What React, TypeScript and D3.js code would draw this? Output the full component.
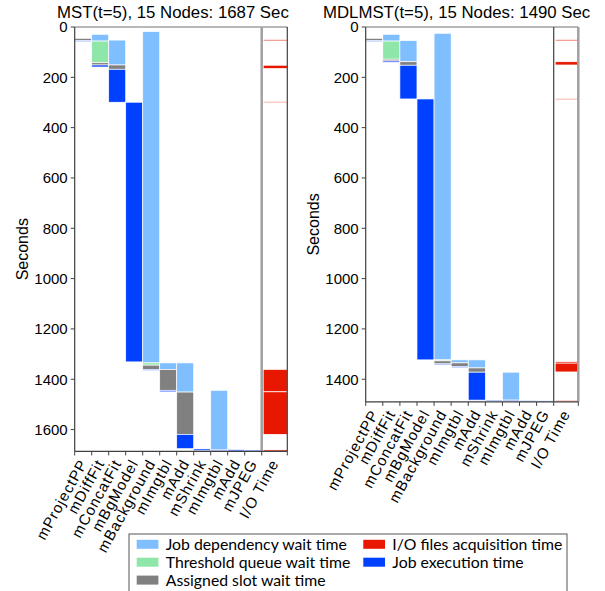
import React from "react";
import * as d3 from "d3";

const categories = ["mProjectPP", "mDiffFit", "mConcatFit", "mBgModel", "mBackground", "mImgtbl", "mAdd", "mShrink", "mImgtbl", "mAdd", "mJPEG"];
const ioLabel = "I/O Time";
const yTicksLeft = [0, 200, 400, 600, 800, 1000, 1200, 1400, 1600];
const yTicksRight = [0, 200, 400, 600, 800, 1000, 1200, 1400];

// MST(t=5)
const mstTotal = 1687;
const mstStart = [45, 29, 52, 299, 18, 1335, 1335, 1677, 1444, 1680, 1682];
const mstDep = [0, 27, 99, 0, 1317, 26, 116, 0, 235, 0, 0];
const mstThr = [0, 86, 0, 0, 9, 0, 0, 0, 0, 0, 0];
const mstSlot = [9, 9, 17, 0, 17, 83, 168, 0, 0, 0, 0];
const mstExec = [4, 8, 131, 1032, 4, 6, 57, 7, 5, 5, 5];
const mstIoStart = [50, 152, 297, 1361, 1450, 1681];
const mstIoEnd = [55, 165, 301, 1450, 1619, 1687];

// MDLMST(t=5)
const mdlTotal = 1490;
const mdlStart = [45, 29, 54, 286, 25, 1323, 1323, 1483, 1372, 1485, 1486];
const mdlDep = [0, 27, 84, 0, 1298, 12, 32, 0, 111, 0, 0];
const mdlThr = [0, 72, 0, 0, 4, 0, 0, 0, 0, 0, 0];
const mdlSlot = [9, 7, 14, 0, 12, 14, 17, 0, 0, 0, 0];
const mdlExec = [4, 5, 134, 1037, 4, 5, 111, 4, 4, 4, 3];
const mdlIoStart = [50, 138, 285, 1330, 1336, 1484];
const mdlIoEnd = [55, 151, 289, 1336, 1371, 1489];

const legendLabels = ["Job dependency wait time", "Threshold queue wait time", "Assigned slot wait time", "I/O files acquisition time", "Job execution time"];

const C = {
  dep: "#7fbfff",
  thr: "#8ee6a8",
  slot: "#808080",
  exec: "#0040ff",
  io: "#e81800",
};
const legendColors = [C.dep, C.thr, C.slot, C.io, C.exec];

const PX_PER_SEC = 0.2516;
const TOP = 27;
const AXIS_FONT = "'Liberation Sans', Arial, sans-serif";

type PanelProps = {
  title: string;
  total: number;
  ticks: number[];
  start: number[];
  dep: number[];
  thr: number[];
  slot: number[];
  exec: number[];
  ioStart: number[];
  ioEnd: number[];
  x0: number;
  xDiv: number;
  xEnd: number;
  titleX: number;
  secondsX: number;
  leftStyle: boolean;
};

function Panel(p: PanelProps) {
  const bottom = TOP + p.total * PX_PER_SEC;
  const y = d3.scaleLinear().domain([0, p.total]).range([TOP, bottom]);
  const x = d3.scaleBand<string>().domain(categories.map((c, i) => c + i)).range([p.x0, p.xDiv]).padding(0);
  const bw = x.bandwidth();
  const rects: JSX.Element[] = [];
  categories.forEach((c, i) => {
    const segs: [number, string][] = [
      [p.dep[i], C.dep],
      [p.thr[i], C.thr],
      [p.slot[i], C.slot],
      [p.exec[i], C.exec],
    ];
    let s = p.start[i];
    segs.forEach(([d, col], j) => {
      if (d > 0) {
        rects.push(
          <rect key={`${i}-${j}`} x={x(c + i)!} y={y(s)} width={bw} height={y(s + d) - y(s)} fill={col} stroke="#fff" strokeWidth={0.7} />
        );
      }
      s += d;
    });
  });
  const ioRects = p.ioStart.map((s, i) => (
    <rect key={`io${i}`} x={p.xDiv + 1.5} y={y(s)} width={p.xEnd - p.xDiv - 1.5} height={y(p.ioEnd[i]) - y(s)} fill={C.io} stroke="#fff" strokeWidth={0.7} />
  ));
  const boundaries = [...categories.map((c, i) => x(c + i)!), p.xDiv, p.xEnd];
  const labels = [...categories.map((c, i) => ({ t: c, cx: x(c + i)! + bw / 2 })), { t: ioLabel, cx: (p.xDiv + p.xEnd) / 2 }];
  const gray = "#a0a0a0";
  const dark = "#404040";
  return (
    <g>
      <text x={p.titleX} y={18} fontFamily={AXIS_FONT} fontSize={16.8} fill="#000">{p.title}</text>
      {rects}
      {ioRects}
      {/* frame */}
      <line x1={p.x0} x2={p.xEnd} y1={TOP} y2={TOP} stroke={gray} strokeWidth={1.5} />
      <line x1={p.xDiv} x2={p.xDiv} y1={TOP} y2={bottom} stroke={p.leftStyle ? gray : dark} strokeWidth={p.leftStyle ? 2.5 : 1.2} />
      <line x1={p.xEnd} x2={p.xEnd} y1={TOP} y2={bottom} stroke={p.leftStyle ? dark : gray} strokeWidth={p.leftStyle ? 1.2 : 2.5} />
      <line x1={p.x0} x2={p.x0} y1={TOP} y2={bottom} stroke={dark} strokeWidth={1.2} />
      <line x1={p.x0} x2={p.xEnd} y1={bottom} y2={bottom} stroke={dark} strokeWidth={1.2} />
      {boundaries.map((bx, i) => (
        <line key={`xt${i}`} x1={bx} x2={bx} y1={bottom} y2={bottom + 4} stroke={dark} strokeWidth={1} />
      ))}
      {p.ticks.map((t) => (
        <g key={`yt${t}`}>
          <line x1={p.x0 - 4} x2={p.x0} y1={y(t)} y2={y(t)} stroke={dark} strokeWidth={1} />
          <text x={p.x0 - 7} y={y(t)} dy="0.36em" textAnchor="end" fontFamily={AXIS_FONT} fontSize={15} fill="#000">{t}</text>
        </g>
      ))}
      <text transform={`translate(${p.secondsX},${(TOP + bottom) / 2 + 10}) rotate(-90)`} textAnchor="middle" dy="0.36em" fontFamily={AXIS_FONT} fontSize={16} fill="#000">Seconds</text>
      {labels.map((l, i) => (
        <text key={`xl${i}`} transform={`translate(${l.cx},${bottom + 9}) rotate(-61)`} textAnchor="end" dy="0.36em" fontFamily={AXIS_FONT} fontSize={15} letterSpacing={1.0} fill="#000">{l.t}</text>
      ))}
    </g>
  );
}

export default function App() {
  const lx = 129, ly = 534, lw = 438;
  const rows = [0, 1, 2];
  return (
    <svg width={605} height={591} style={{ position: "absolute", left: 0, top: 0, background: "#fff" }}>
      <rect x={0} y={0} width={605} height={591} fill="#fff" />
      <Panel title="MST(t=5), 15 Nodes: 1687 Sec" total={mstTotal} ticks={yTicksLeft} start={mstStart} dep={mstDep} thr={mstThr} slot={mstSlot} exec={mstExec} ioStart={mstIoStart} ioEnd={mstIoEnd} x0={74.7} xDiv={261.7} xEnd={287.3} titleX={57} secondsX={22} leftStyle={true} />
      <Panel title="MDLMST(t=5), 15 Nodes: 1490 Sec" total={mdlTotal} ticks={yTicksRight} start={mdlStart} dep={mdlDep} thr={mdlThr} slot={mdlSlot} exec={mdlExec} ioStart={mdlIoStart} ioEnd={mdlIoEnd} x0={365.7} xDiv={553.7} xEnd={578.3} titleX={323} secondsX={313} leftStyle={false} />
      <rect x={lx} y={ly} width={lw} height={70} fill="#fff" stroke="#555" strokeWidth={1} />
      {legendLabels.map((t, i) => {
        const col = i < 3 ? 0 : 1;
        const row = i < 3 ? i : i - 3;
        const sx = col === 0 ? 136.7 : 363.3;
        const cy = 544.3 + rows[row] * 17.9;
        return (
          <g key={t}>
            <rect x={sx} y={cy - 4.5} width={21.7} height={9} fill={legendColors[i]} />
            <text x={sx + 29} y={cy} dy="0.36em" fontFamily="Lato, 'Open Sans', sans-serif" fontSize={15.8} fill="#000">{t}</text>
          </g>
        );
      })}
    </svg>
  );
}
